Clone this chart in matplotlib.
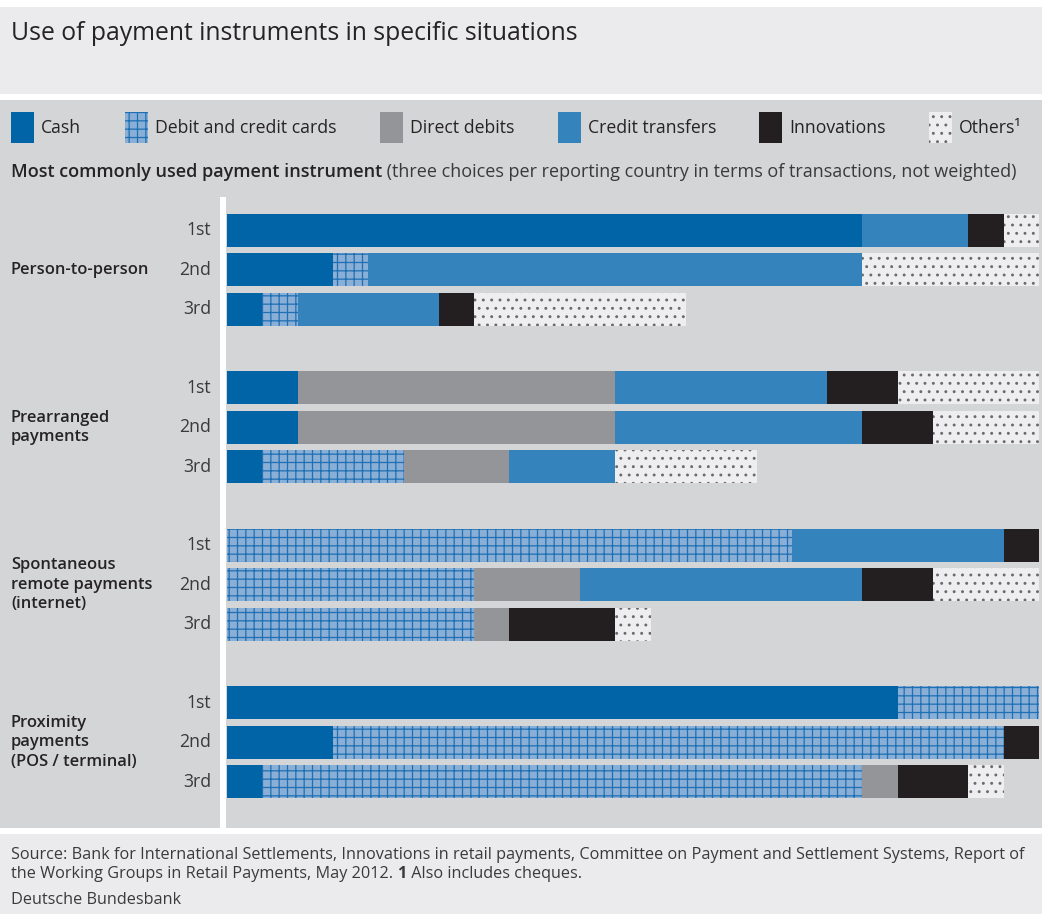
import matplotlib
matplotlib.use('Agg')
import matplotlib.pyplot as plt
import matplotlib.transforms as mtransforms
from matplotlib.patches import Rectangle
import numpy as np

# Data: number of reporting countries per instrument, stacked in this order
situations = ['Person-to-person', 'Prearranged\npayments',
              'Spontaneous\nremote payments\n(internet)',
              'Proximity\npayments\n(POS / terminal)']
ranks = ['1st', '2nd', '3rd']
instruments = ['Cash', 'Debit and credit cards', 'Direct debits',
               'Credit transfers', 'Innovations', 'Others\u00b9']

# rows: P2P 1st,2nd,3rd, Prearranged 1st,2nd,3rd, Spontaneous ..., Proximity ...
cash         = [18, 3, 1,  2, 2, 1,  0, 0, 0,  19, 3, 1]
cards        = [0, 1, 1,   0, 0, 4,  16, 7, 7, 4, 19, 17]
direct_debit = [0, 0, 0,   9, 9, 3,  0, 3, 1,  0, 0, 1]
credit_trans = [3, 14, 4,  6, 7, 3,  6, 8, 0,  0, 0, 0]
innovations  = [1, 0, 1,   2, 2, 0,  1, 2, 3,  0, 1, 2]
others       = [1, 5, 6,   4, 3, 4,  0, 3, 1,  0, 0, 1]
series = [cash, cards, direct_debit, credit_trans, innovations, others]
n_countries = 23

# Styles
face = ['#0064a7', '#8aafd6', '#939598', '#3583bc', '#231f20', '#eeeef0']
hatch_col = ['#0064a7', '#1f6fb5', '#939598', '#3583bc', '#231f20', '#6a6a6a']
hatches = [None, '++', None, None, None, '..']
txt = '#262324'
plt.rcParams['font.family'] = ['Open Sans', 'DejaVu Sans']
plt.rcParams['hatch.linewidth'] = 0.9

W, H = 1042, 914
fig = plt.figure(figsize=(W / 100, H / 100), dpi=100)
fig.patch.set_facecolor('white')


def fx(px):
    return px / W


def fy(py):
    return 1 - py / H


def box(x0, y0, x1, y1, color, **kw):
    fig.patches.append(Rectangle((fx(x0), fy(y1)), fx(x1) - fx(x0), fy(y0) - fy(y1),
                                 transform=fig.transFigure, facecolor=color,
                                 edgecolor=kw.pop('edgecolor', 'none'), linewidth=0,
                                 zorder=-1, **kw))


# background panels
box(0, 7, W, 94, '#ebebed')
box(0, 100, W, 828, '#d4d5d7')
box(0, 834, W, H, '#ebebed')
box(220, 197, 226, 828, 'white')

fig.text(fx(11), fy(34), 'Use of payment instruments in specific situations',
         fontsize=17.8, color=txt, va='center', ha='left')

# legend
leg_x = [11, 125, 380, 558, 759, 929]
for i, name in enumerate(instruments):
    box(leg_x[i], 112, leg_x[i] + 23, 143, face[i],
        hatch=hatches[i], edgecolor=hatch_col[i])
    fig.text(fx(leg_x[i] + 30), fy(128), name, fontsize=12.7, color=txt,
             va='center', ha='left')

# subtitle (bold + regular part)
renderer = fig.canvas.get_renderer()
t1 = fig.text(fx(11), fy(172), 'Most commonly used payment instrument',
              fontsize=13.0, fontweight='semibold', color=txt, va='center')
bb = t1.get_window_extent(renderer)
fig.text(bb.x1 / W, fy(172), ' (three choices per reporting country in terms of transactions, not weighted)',
         fontsize=13.0, color='#3a3a3a', va='center')

# bars
ax = fig.add_axes([fx(227), fy(828), fx(1039) - fx(227), fy(197) - fy(828)])
ax.set_zorder(1)
ax.set_facecolor('none')
ax.axis('off')
ypos = np.array([g * 4 + r for g in range(len(situations)) for r in range(len(ranks))])
left = np.zeros(len(ypos))
for i, vals in enumerate(series):
    vals = np.array(vals, dtype=float)
    ax.barh(ypos, vals, left=left, height=0.84, color=face[i],
            hatch=hatches[i], edgecolor=hatch_col[i], linewidth=0)
    left += vals
ax.set_xlim(0, n_countries)
ax.set_ylim(15.18, -0.851)

trans = mtransforms.blended_transform_factory(fig.transFigure, ax.transData)
for y, r in zip(ypos, ranks * len(situations)):
    ax.text(fx(211), y, r, transform=trans, fontsize=12.7, color='#3a3a3a',
            ha='right', va='center', clip_on=False)
for g, s in enumerate(situations):
    ax.text(fx(11), g * 4 + 1, s, transform=trans, fontsize=11.9,
            fontweight='semibold', color=txt, ha='left', va='center',
            linespacing=1.3, clip_on=False)

# footer
foot_kw = dict(fontsize=11.7, color='#3a3a3a', va='center', ha='left')
fig.text(fx(11), fy(855), 'Source: Bank for International Settlements, Innovations in retail payments, '
         'Committee on Payment and Settlement Systems, Report of', **foot_kw)
f1 = fig.text(fx(11), fy(874), 'the Working Groups in Retail Payments, May 2012. ', **foot_kw)
x1 = f1.get_window_extent(renderer).x1
f2 = fig.text(x1 / W, fy(874), '1', fontweight='bold', **foot_kw)
x2 = f2.get_window_extent(renderer).x1
fig.text(x2 / W, fy(874), ' Also includes cheques.', **foot_kw)
fig.text(fx(11), fy(900), 'Deutsche Bundesbank', **foot_kw)

fig.savefig('out.png', dpi=100)
